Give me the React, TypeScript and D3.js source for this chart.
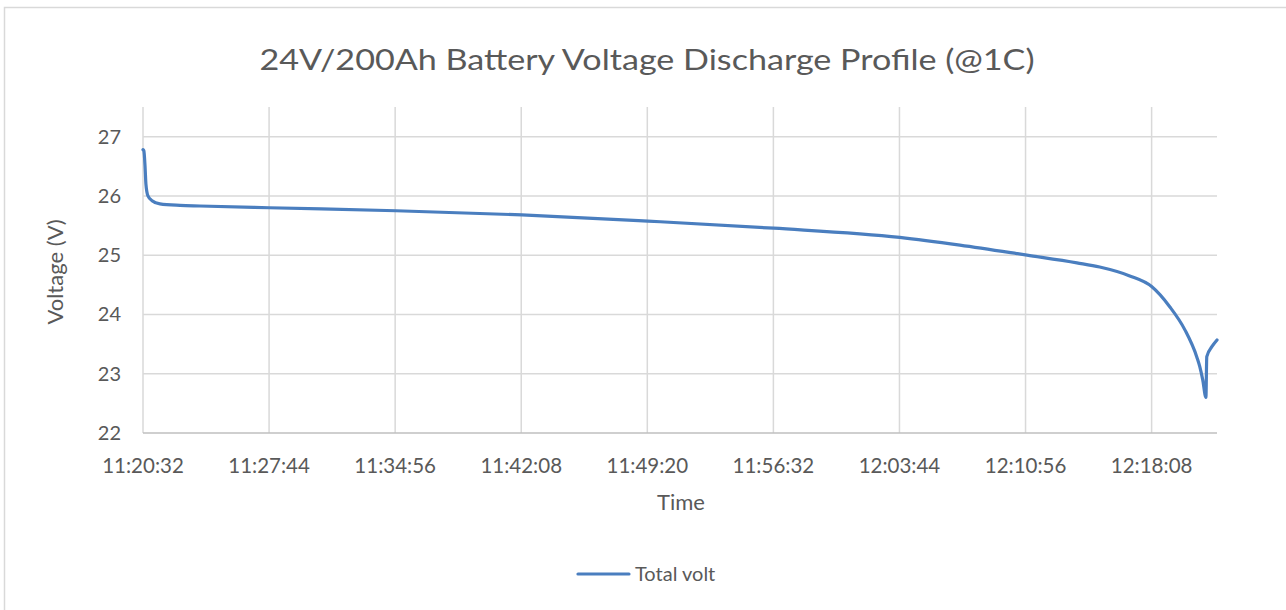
import React from "react";
import * as d3 from "d3";

// elapsed seconds since 11:20:32
const elapsedSec = [0, 3, 7, 10, 17, 31, 58, 127, 195, 432, 867, 1298, 1730, 2161, 2593, 2799, 3029, 3200, 3278, 3381, 3456, 3518, 3570, 3611, 3621, 3631, 3642, 3645, 3663, 3680];
const totalVolt = [26.78, 26.76, 26.5, 26.2, 26.0, 25.92, 25.865, 25.84, 25.83, 25.8, 25.75, 25.68, 25.575, 25.455, 25.3, 25.17, 25.0, 24.87, 24.8, 24.65, 24.47, 24.13, 23.74, 23.28, 23.12, 22.9, 22.6, 23.29, 23.46, 23.57];
const xTickLabels = ["11:20:32", "11:27:44", "11:34:56", "11:42:08", "11:49:20", "11:56:32", "12:03:44", "12:10:56", "12:18:08"];
const xTickStep = 432;
const yTicks = [22, 23, 24, 25, 26, 27];

const W = 1286, H = 610;
const FONT = "Lato, 'Open Sans', sans-serif";
const TEXT = "#595959";
const GRID = "#d9d9d9";
const BLUE = "#4a7ebf";

export default function App() {
  const x = d3.scaleLinear().domain([0, 3680]).range([143, 1217]);
  const y = d3.scaleLinear().domain([22, 27.5]).range([433, 107]);
  const data = elapsedSec.map((t, i) => [t, totalVolt[i]] as [number, number]);
  const line = d3.line<[number, number]>().x(d => x(d[0])).y(d => y(d[1])).curve(d3.curveMonotoneX);
  const xt = xTickLabels.map((l, i) => ({ l, v: i * xTickStep }));
  return (
    <svg width={W} height={H} style={{ position: "absolute", left: 0, top: 0, background: "#fff" }} fontFamily={FONT}>
      <rect x={4.5} y={7.5} width={W + 10} height={H + 10} fill="#fff" stroke={GRID} strokeWidth={1.5} />
      <text x={647} y={70} textAnchor="middle" fontSize={29} fill={TEXT} textLength={775} lengthAdjust="spacingAndGlyphs">
        24V/200Ah Battery Voltage Discharge Profile (@1C)
      </text>
      {yTicks.filter(v => v > 22).map(v => (
        <line key={"gy" + v} x1={x(0)} x2={x(3680)} y1={y(v)} y2={y(v)} stroke={GRID} strokeWidth={1.5} />
      ))}
      {xt.map(d => (
        <line key={"gx" + d.v} x1={x(d.v)} x2={x(d.v)} y1={y(27.5)} y2={y(22)} stroke={GRID} strokeWidth={1.5} />
      ))}
      <line x1={x(0)} x2={x(3680)} y1={y(22)} y2={y(22)} stroke="#bfbfbf" strokeWidth={1.5} />
      {yTicks.map(v => (
        <text key={"ty" + v} x={121} y={y(v)} dy="0.35em" textAnchor="end" fontSize={20} fill={TEXT}>{v}</text>
      ))}
      {xt.map(d => (
        <text key={"tx" + d.v} x={x(d.v)} y={473} textAnchor="middle" fontSize={20.5} fill={TEXT}>{d.l}</text>
      ))}
      <text transform="translate(63,272) rotate(-90)" textAnchor="middle" fontSize={22} fill={TEXT}>Voltage (V)</text>
      <text x={681} y={510} textAnchor="middle" fontSize={22} fill={TEXT}>Time</text>
      <path d={line(data) || ""} fill="none" stroke={BLUE} strokeWidth={3.2} strokeLinejoin="round" strokeLinecap="round" />
      <line x1={578} x2={629} y1={574} y2={574} stroke={BLUE} strokeWidth={3.2} strokeLinecap="round" />
      <text x={635} y={581} fontSize={20} fill={TEXT}>Total volt</text>
    </svg>
  );
}
